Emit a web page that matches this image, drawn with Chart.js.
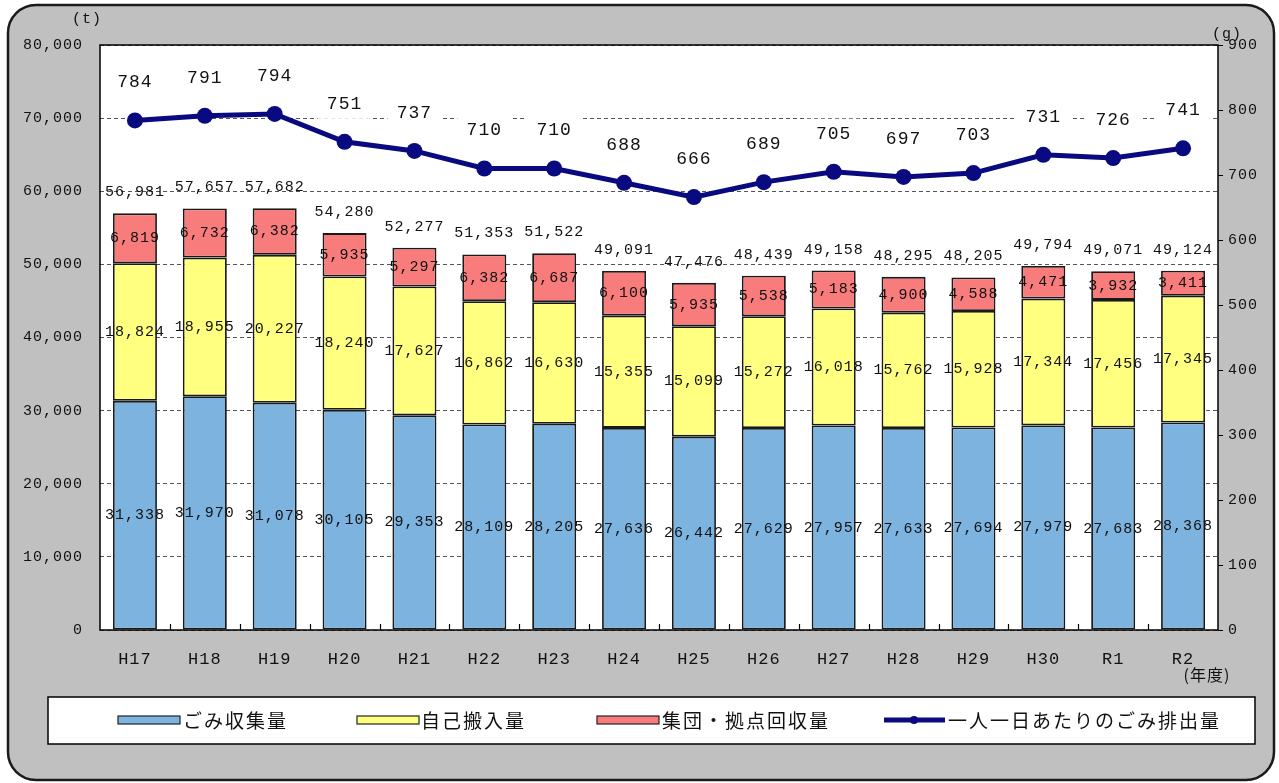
<!DOCTYPE html>
<html>
<head>
<meta charset="utf-8">
<script src="https://cdn.jsdelivr.net/npm/chart.js@4/dist/chart.umd.min.js"></script>
<style>
html,body{margin:0;padding:0;background:#fff;}
#wrap{width:1279px;height:783px;position:relative;}
</style>
</head>
<body>
<div id="wrap"><canvas id="c" width="1279" height="783"></canvas></div>
<script>
const categories = ['H17','H18','H19','H20','H21','H22','H23','H24','H25','H26','H27','H28','H29','H30','R1','R2'];
const collected = [31338,31970,31078,30105,29353,28109,28205,27636,26442,27629,27957,27633,27694,27979,27683,28368];
const selfCarried = [18824,18955,20227,18240,17627,16862,16630,15355,15099,15272,16018,15762,15928,17344,17456,17345];
const groupCollected = [6819,6732,6382,5935,5297,6382,6687,6100,5935,5538,5183,4900,4588,4471,3932,3411];
const totals = [56981,57657,57682,54280,52277,51353,51522,49091,47476,48439,49158,48295,48205,49794,49071,49124];
const perPerson = [784,791,794,751,737,710,710,688,666,689,705,697,703,731,726,741];
const leftTicks = [0,10000,20000,30000,40000,50000,60000,70000,80000];
const rightTicks = [0,100,200,300,400,500,600,700,800,900];
const seriesNames = ['ごみ収集量','自己搬入量','集団・拠点回収量','一人一日あたりのごみ排出量'];

const COL_BLUE = '#7DB3DF';
const COL_YEL = '#FFFF80';
const COL_RED = '#F87C7C';
const COL_NAVY = '#0A0A80';
const TXT = '#111';
const MONO = '"Liberation Mono","DejaVu Sans Mono",monospace';
const CJK = '"Noto Sans CJK JP","Noto Sans CJK SC",sans-serif';
const fmt = v => v.toLocaleString('en-US');

const bgPlugin = {
  id:'bg',
  beforeDraw(chart){
    const ctx = chart.ctx;
    try{ctx.letterSpacing='1px';}catch(e){}
    ctx.save();
    ctx.fillStyle = '#fff';
    ctx.fillRect(0,0,chart.width,chart.height);
    ctx.beginPath();
    ctx.roundRect(8,5,1266,775,28);
    ctx.fillStyle = '#C0C0C0';
    ctx.fill();
    ctx.lineWidth = 2.5;
    ctx.strokeStyle = '#1a1a1a';
    ctx.stroke();
    const a = chart.chartArea;
    ctx.fillStyle = '#fff';
    ctx.fillRect(a.left,a.top,a.right-a.left,a.bottom-a.top);
    ctx.restore();
  },
  beforeDatasetsDraw(chart){
    const ctx = chart.ctx;
    const meta = chart.getDatasetMeta(3);
    ctx.save();
    ctx.fillStyle = '#fff';
    meta.data.forEach(p=>{
      ctx.fillRect(p.x-27,p.y-38-15,54,30);
    });
    ctx.restore();
  },
  afterDatasetsDraw(chart){
    const ctx = chart.ctx;
    const a = chart.chartArea;
    ctx.save();
    ctx.strokeStyle = '#000';
    ctx.lineWidth = 1.5;
    ctx.strokeRect(a.left,a.top,a.right-a.left,a.bottom-a.top);
    const xs = chart.scales.x;
    ctx.lineWidth = 1.2;
    ctx.beginPath();
    for(let i=1;i<categories.length;i++){
      const x = (xs.getPixelForValue(i-1)+xs.getPixelForValue(i))/2;
      ctx.moveTo(Math.round(x)+0.5,a.bottom);
      ctx.lineTo(Math.round(x)+0.5,a.bottom-6);
    }
    ctx.stroke();
    ctx.font = '15px '+MONO;
    ctx.fillStyle = TXT;
    ctx.textAlign = 'center';
    ctx.textBaseline = 'middle';
    [0,1,2].forEach(di=>{
      const meta = chart.getDatasetMeta(di);
      const vals = chart.data.datasets[di].data;
      meta.data.forEach((bar,i)=>{
        const yc = (bar.y+bar.base)/2;
        ctx.fillText(fmt(vals[i]),bar.x,yc);
      });
    });
    const m2 = chart.getDatasetMeta(2);
    m2.data.forEach((bar,i)=>{
      ctx.fillText(fmt(totals[i]),bar.x,bar.y-21);
    });
    const m3 = chart.getDatasetMeta(3);
    ctx.font = '18px '+MONO;
    m3.data.forEach((p,i)=>{
      ctx.fillText(String(perPerson[i]),p.x,p.y-38);
    });
    ctx.restore();
  },
  afterDraw(chart){
    const ctx = chart.ctx;
    ctx.save();
    ctx.fillStyle = TXT;
    ctx.font = '15px '+MONO;
    ctx.textBaseline = 'middle';
    ctx.textAlign = 'center';
    ctx.fillText('(t)',87,19);
    ctx.fillText('(g)',1227,34);
    ctx.font = '16px '+CJK;
    ctx.fillText('(年度)',1207,675);
    ctx.fillStyle = '#fff';
    ctx.fillRect(48,697,1207,47);
    ctx.strokeStyle = '#000';
    ctx.lineWidth = 1.5;
    ctx.strokeRect(48,697,1207,47);
    const items = [
      {x:118, fill:COL_BLUE},
      {x:357, fill:COL_YEL},
      {x:597, fill:COL_RED},
    ];
    const ly = 720;
    items.forEach(it=>{
      ctx.fillStyle = it.fill;
      ctx.fillRect(it.x,ly-4,62,8);
      ctx.strokeStyle = '#222';
      ctx.lineWidth = 1.2;
      ctx.strokeRect(it.x,ly-4,62,8);
    });
    ctx.strokeStyle = COL_NAVY;
    ctx.lineWidth = 5;
    ctx.beginPath();
    ctx.moveTo(884,ly);ctx.lineTo(945,ly);
    ctx.stroke();
    ctx.fillStyle = COL_NAVY;
    ctx.beginPath();ctx.arc(914,ly,4,0,Math.PI*2);ctx.fill();
    ctx.fillStyle = TXT;
    ctx.font = '19px '+CJK;
    ctx.textAlign = 'left';
    try{ctx.letterSpacing='2px';}catch(e){}
    ctx.fillText(seriesNames[0],183,ly+1);
    ctx.fillText(seriesNames[1],421,ly+1);
    ctx.fillText(seriesNames[2],662,ly+1);
    ctx.fillText(seriesNames[3],948,ly+1);
    ctx.restore();
  }
};

new Chart(document.getElementById('c'),{
  data:{
    labels:categories,
    datasets:[
      {type:'bar',label:seriesNames[0],data:collected,backgroundColor:COL_BLUE,borderColor:'#1a1a1a',borderWidth:1.8,borderSkipped:false,stack:'s',yAxisID:'y',order:1},
      {type:'bar',label:seriesNames[1],data:selfCarried,backgroundColor:COL_YEL,borderColor:'#1a1a1a',borderWidth:1.8,borderSkipped:false,stack:'s',yAxisID:'y',order:1},
      {type:'bar',label:seriesNames[2],data:groupCollected,backgroundColor:COL_RED,borderColor:'#1a1a1a',borderWidth:1.8,borderSkipped:false,stack:'s',yAxisID:'y',order:1},
      {type:'line',label:seriesNames[3],data:perPerson,borderColor:COL_NAVY,backgroundColor:COL_NAVY,borderWidth:5,pointRadius:8,pointHoverRadius:8,pointBorderWidth:0,yAxisID:'y1',order:0,tension:0}
    ]
  },
  options:{
    responsive:false,
    animation:false,
    layout:{padding:{top:45,left:0,right:0,bottom:0}},
    plugins:{legend:{display:false},tooltip:{enabled:false}},
    datasets:{bar:{categoryPercentage:1,barPercentage:0.63}},
    scales:{
      x:{
        stacked:true,
        grid:{display:false},
        border:{display:false},
        ticks:{color:TXT,font:{family:MONO,size:17},padding:11,maxRotation:0},
        afterFit(s){s.height=153;}
      },
      y:{
        stacked:true,
        position:'left',
        min:0,max:80000,
        afterBuildTicks(s){s.ticks=leftTicks.map(v=>({value:v}));},
        grid:{color:'#555',lineWidth:1,drawTicks:false},
        border:{display:false,dash:[4,3]},
        ticks:{color:TXT,font:{family:MONO,size:15},padding:17,callback:v=>fmt(v)},
        afterFit(s){s.width=100;}
      },
      y1:{
        position:'right',
        min:0,max:900,
        afterBuildTicks(s){s.ticks=rightTicks.map(v=>({value:v}));},
        grid:{drawOnChartArea:false,drawTicks:true,tickLength:5,color:'#000'},
        border:{display:false},
        ticks:{color:TXT,font:{family:MONO,size:15},padding:5,callback:v=>String(v)},
        afterFit(s){s.width=61;}
      }
    }
  },
  plugins:[bgPlugin]
});
</script>
</body>
</html>
